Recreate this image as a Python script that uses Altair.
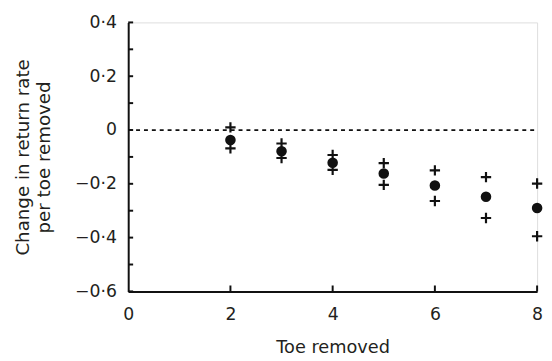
import altair as alt
import pandas as pd

toe = [2, 3, 4, 5, 6, 7, 8]
mean = [-0.037, -0.079, -0.122, -0.162, -0.206, -0.248, -0.290]
upper = [0.010, -0.050, -0.093, -0.123, -0.150, -0.175, -0.199]
lower = [-0.068, -0.104, -0.148, -0.204, -0.264, -0.327, -0.395]

y_ticks = [-0.6, -0.5, -0.4, -0.3, -0.2, -0.1, 0.0, 0.1, 0.2, 0.3, 0.4]
y_labels = [-0.6, -0.4, -0.2, 0.0, 0.2, 0.4]
x_ticks = [2, 4, 6, 8]
x_labels = [0, 2, 4, 6, 8]

df = pd.DataFrame({"toe": toe, "mean": mean, "upper": upper, "lower": lower})
ci = pd.DataFrame({"toe": toe * 2, "v": upper + lower})
yt = pd.DataFrame({"v": y_ticks})
xt = pd.DataFrame({"t": x_ticks})
zero = pd.DataFrame({"z": [0.0], "x0": [0], "x1": [8]})

FONT = "DejaVu Sans"
TXT = "#231f20"

xscale = alt.Scale(domain=[0, 8], nice=False, zero=False)
yscale = alt.Scale(domain=[-0.6, 0.4], nice=False, zero=False)

xaxis = alt.Axis(values=x_labels, ticks=False, grid=False, domainColor="#111",
                 domainWidth=2, labelFontSize=17.5, labelFont=FONT, labelColor=TXT,
                 labelPadding=15, title="Toe removed", titleFont=FONT,
                 titleFontSize=18, titleFontWeight="normal", titleColor=TXT,
                 titlePadding=16, labelFlush=False)
yaxis = alt.Axis(values=y_labels, ticks=False, grid=False, domainColor="#111",
                 domainWidth=2, labelFontSize=17.5, labelFont=FONT, labelColor=TXT,
                 labelPadding=12,
                 labelExpr="datum.value == 0 ? '0' : replace(format(datum.value, '.1f'), '.', '·')",
                 title=["Change in return rate", "per toe removed"], titleFont=FONT,
                 titleFontSize=18.5, titleFontWeight="normal", titleColor=TXT,
                 titlePadding=21, titleLineHeight=22, labelFlush=False)

points = alt.Chart(df).mark_circle(size=115, color="#111", opacity=1).encode(
    x=alt.X("toe:Q", scale=xscale, axis=xaxis),
    y=alt.Y("mean:Q", scale=yscale, axis=yaxis),
)

plus = alt.Chart(ci).mark_point(
    shape="M-1,0L1,0M0,-1L0,1", size=110, filled=False, stroke="#111",
    strokeWidth=2.2, opacity=1
).encode(
    x=alt.X("toe:Q", scale=xscale, axis=xaxis),
    y=alt.Y("v:Q", scale=yscale, axis=yaxis),
)

zline = alt.Chart(zero).mark_rule(strokeDash=[4, 4], strokeWidth=1.8, color="#111").encode(
    x=alt.X("x0:Q", scale=xscale, axis=xaxis),
    x2="x1:Q",
    y=alt.Y("z:Q", scale=yscale, axis=yaxis),
)

yt_rule = alt.Chart(yt).mark_rule(strokeWidth=2, color="#111").encode(
    y=alt.Y("v:Q", scale=yscale, axis=yaxis),
    x=alt.value(0),
    x2=alt.value(5),
)

xt_rule = alt.Chart(xt).mark_rule(strokeWidth=2, color="#111").encode(
    x=alt.X("t:Q", scale=xscale, axis=xaxis),
    y=alt.value(273),
    y2=alt.value(267),
)

chart = alt.layer(zline, yt_rule, xt_rule, plus, points).properties(
    width=415, height=273,
    autosize=alt.AutoSizeParams(type="none"),
    padding={"left": 122, "top": 12, "right": 7, "bottom": 68},
).configure_view(stroke=None).configure(background="white")

chart.save("out.html", embed_options={"renderer": "svg", "actions": False})
